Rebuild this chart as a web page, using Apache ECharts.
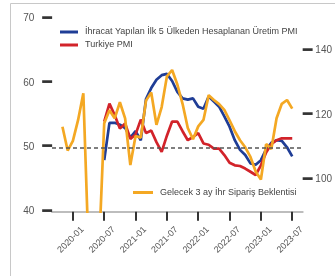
<!DOCTYPE html>
<html>
<head>
    <meta charset="utf-8">
    <title>PMI</title>
    <script src="https://cdn.jsdelivr.net/npm/echarts@6/dist/echarts.min.js"></script>
    <style>
        html, body { margin: 0; padding: 0; background: #fff; }
    </style>
</head>
<body>
    <div id="chart" style="width: 335px;height:276px;"></div>
    <script type="text/javascript">
        // months shown on the x axis (2019-09 .. 2023-09)
        var months = [];
        for (var y = 2019; y <= 2023; y++) {
            for (var m = 1; m <= 12; m++) {
                var s = y + '-' + (m < 10 ? '0' + m : m);
                if (s >= '2019-09' && s <= '2023-09') months.push(s);
            }
        }

        var blueName = 'İhracat Yapılan İlk 5 Ülkeden Hesaplanan Üretim PMI';
        var redName = 'Turkiye PMI';
        var yellowName = 'Gelecek 3 ay İhr Sipariş Beklentisi';

        // İhracat yapılan ilk 5 ülke PMI, 2020-07 .. 2023-07
        var blueStart = '2020-07';
        var blueData = [48.0, 53.8, 53.8, 53.5, 53.0, 51.5,
            52.5, 51.1, 57.5, 59.2, 60.5, 61.2, 61.4, 60.3, 58.6, 57.6, 57.4, 57.6,
            56.3, 56.0, 57.9, 57.1, 56.3, 54.8, 53.2, 51.1, 49.6, 48.8, 47.5, 47.3,
            48.0, 49.7, 50.7, 51.1, 51.0, 50.0, 48.6];

        // Türkiye PMI, 2020-07 .. 2023-07
        var redStart = '2020-07';
        var redData = [54.0, 56.8, 55.0, 52.9, 53.7, 51.3,
            52.0, 54.3, 52.2, 52.6, 50.8, 49.3, 51.8, 54.0, 54.0, 52.5, 51.1, 51.6,
            52.2, 50.6, 50.4, 49.8, 49.8, 48.8, 47.6, 47.2, 47.1, 46.7, 46.2, 45.7,
            47.2, 49.2, 50.5, 51.1, 51.4, 51.4, 51.4];

        // Gelecek 3 ay ihracat sipariş beklentisi (sağ eksen), 2019-11 .. 2023-07
        var yellowStart = '2019-11';
        var yellowData = [116.4, 109.0,
            112.0, 118.5, 126.8, 78.0, 62.0, 78.0, 117.5, 121.5, 119.0, 124.0, 119.0, 104.5,
            113.5, 113.0, 124.5, 127.0, 117.0, 122.5, 132.0, 134.0, 129.5, 123.5, 116.0, 112.5,
            116.5, 118.5, 126.2, 124.7, 123.4, 121.6, 118.4, 115.0, 112.2, 110.0, 107.0, 102.5,
            100.0, 111.0, 109.5, 119.0, 123.5, 124.7, 122.0];

        var leftTicks = [40, 50, 60, 70];
        var rightTicks = [100, 120, 140];

        function pairs(start, values) {
            var i0 = months.indexOf(start);
            var out = [];
            for (var i = 0; i < values.length; i++) {
                out.push([months[i0 + i], values[i]]);
            }
            return out;
        }

        function halfYear(idx, val) {
            return /-(01|07)$/.test(val);
        }

        // the little dash beside each y label is a heavy box-drawing glyph
        var dash = { fontFamily: 'DejaVu Sans', fontSize: 16, color: '#333' };

        var font = '"Liberation Sans", Arial, sans-serif';
        var chart = echarts.init(document.getElementById('chart'));
        var option = {
            animation: false,
            textStyle: { fontFamily: font },
            graphic: [{
                type: 'rect',
                shape: { x: 10.5, y: 3.5, width: 400, height: 400 },
                style: { fill: 'none', stroke: '#c8c8c8', lineWidth: 1 },
                silent: true
            }],
            grid: { left: 52, right: 32, top: 18.5, bottom: 64.3, containLabel: false },
            legend: [{
                data: [blueName, redName],
                orient: 'vertical',
                left: 60,
                top: 27.5,
                padding: 0,
                itemGap: 4,
                itemWidth: 18,
                itemHeight: 3,
                icon: 'rect',
                textStyle: { fontSize: 9, color: '#444', padding: [0, 0, 0, 2] }
            }, {
                data: [yellowName],
                left: 133,
                top: 188,
                padding: 0,
                itemWidth: 20,
                itemHeight: 3,
                icon: 'rect',
                textStyle: { fontSize: 9, color: '#444', padding: [0, 0, 0, 2] }
            }],
            xAxis: {
                type: 'category',
                data: months,
                boundaryGap: false,
                axisLine: { lineStyle: { color: '#bdbdbd', width: 2 } },
                axisTick: { interval: halfYear, length: 9, lineStyle: { color: '#333', width: 2 } },
                axisLabel: {
                    interval: halfYear, rotate: 45, align: 'center', margin: 26,
                    padding: [0, 6, 0, 0], fontSize: 9, color: '#555'
                },
                splitLine: { show: false }
            },
            yAxis: [{
                type: 'value',
                min: 40,
                max: 70,
                interval: 10,
                axisLine: { show: false },
                axisTick: { show: false },
                axisLabel: {
                    customValues: leftTicks,
                    margin: 0,
                    formatter: function (v) { return '{v|' + v + '}{d|━}'; },
                    rich: {
                        v: { fontSize: 10, color: '#555', padding: [0, 8, 0, 0] },
                        d: dash
                    }
                },
                splitLine: { show: false }
            }, {
                type: 'value',
                position: 'right',
                min: 90,
                max: 150,
                interval: 10,
                axisLine: { show: false },
                axisTick: { show: false },
                axisLabel: {
                    customValues: rightTicks,
                    margin: 0,
                    formatter: function (v) { return '{d|━}{v|' + v + '}'; },
                    rich: {
                        v: { fontSize: 10, color: '#555', padding: [0, 0, 0, 3] },
                        d: dash
                    }
                },
                splitLine: { show: false }
            }],
            series: [{
                name: blueName,
                type: 'line',
                yAxisIndex: 0,
                z: 2,
                symbol: 'none',
                color: '#1f3d96',
                lineStyle: { width: 2.7 },
                data: pairs(blueStart, blueData),
                markLine: {
                    silent: true,
                    symbol: 'none',
                    label: { show: false },
                    lineStyle: { color: '#555', type: [4, 3], width: 1.5 },
                    data: [{ yAxis: 50 }]
                }
            }, {
                name: redName,
                type: 'line',
                yAxisIndex: 0,
                z: 3,
                symbol: 'none',
                color: '#d2232a',
                lineStyle: { width: 2.7 },
                data: pairs(redStart, redData)
            }, {
                name: yellowName,
                type: 'line',
                yAxisIndex: 1,
                z: 4,
                symbol: 'none',
                color: '#f4a823',
                lineStyle: { width: 2.7 },
                data: pairs(yellowStart, yellowData)
            }]
        };
        chart.setOption(option);
    </script>
</body>
</html>
